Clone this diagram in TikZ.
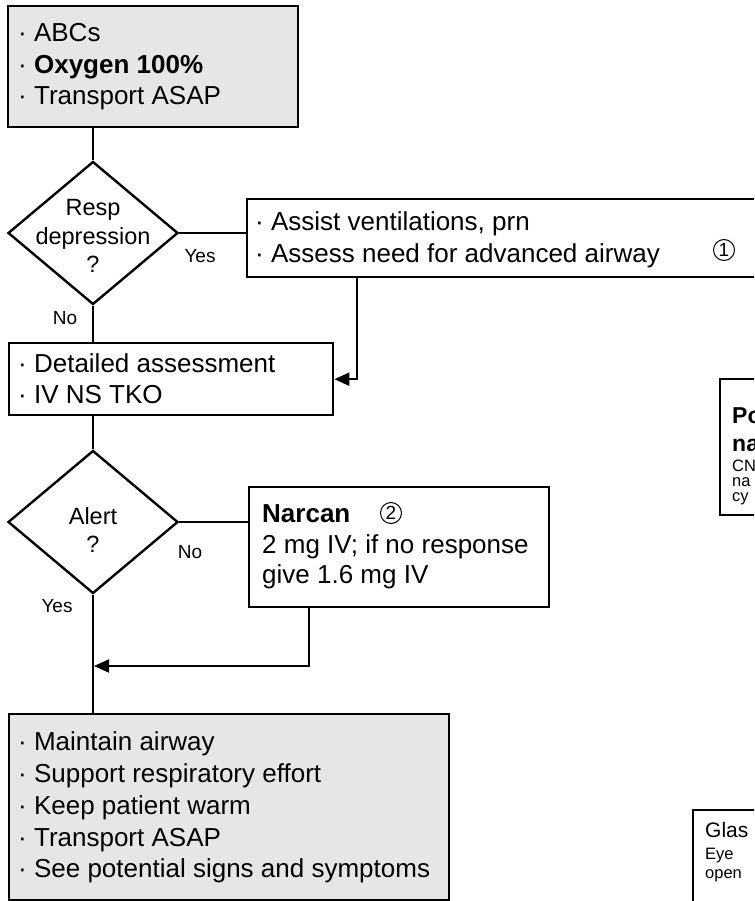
\documentclass[tikz,border=0pt]{standalone}
\usepackage{fontspec}
\setmainfont{Liberation Sans}
\usetikzlibrary{shapes.geometric,arrows.meta}
\definecolor{boxgray}{RGB}{230,230,230}
\newcommand\fsz[2]{\fontsize{#1}{#2}\selectfont}
\begin{document}
\begin{tikzpicture}[x=1pt,y=-1pt,
  box/.style={draw, line width=2.4pt, inner sep=0pt, anchor=north west},
  gbox/.style={box, fill=boxgray},
  dia/.style={draw, diamond, line width=2.4pt, inner sep=0pt, minimum width=170pt, minimum height=143pt},
  ln/.style={anchor=base west, inner sep=0pt, font=\fsz{26}{31}},
  lnb/.style={ln, font=\fsz{26}{31}\bfseries},
  dtxt/.style={align=center, inner sep=0pt, font=\fsz{23.5}{28.5}},
  lab/.style={inner sep=0pt, font=\fsz{19}{22}},
  num/.style={draw, circle, line width=1pt, inner sep=0pt, minimum size=21pt, font=\fsz{19}{21}},
  sml/.style={anchor=base west, inner sep=0pt, font=\fsz{16.5}{18}},
  conn/.style={line width=2pt},
  arr/.style={conn, -{Triangle[length=15pt,width=13pt]}}]
\useasboundingbox (0,0) rectangle (754,901);
\clip (0,0) rectangle (754,901);
\fill[white] (0,0) rectangle (754,901);

% boxes and decisions
\node[gbox, minimum width=290pt, minimum height=121pt] (top) at (7,5) {};
\node[dia] (d1) at (93,233) {};
\node[box, minimum width=540pt, minimum height=78pt] (assist) at (246,198) {};
\node[box, minimum width=324pt, minimum height=72pt] (detail) at (8,342) {};
\node[dia] (d2) at (93,522) {};
\node[box, minimum width=300pt, minimum height=120pt] (narcan) at (248,486) {};
\node[gbox, minimum width=440pt, minimum height=186pt] (bottom) at (8,713) {};
\node[box, minimum width=80pt, minimum height=136pt] (sideA) at (719,378) {};
\node[box, minimum width=80pt, minimum height=120pt] (sideB) at (692,809) {};

% texts
\node[ln]  (t1) at (18,42)  {· ABCs};
\node[lnb] (t2) at (18,74)  {\mdseries·\bfseries\ Oxygen 100\%};
\node[ln]  (t3) at (18,105) {· Transport ASAP};

\node[dtxt] (d1t) at (93,236) {Resp\\depression\\?};
\node[ln] (a1) at (255,230) {· Assist ventilations, prn};
\node[ln] (a2) at (255,262) {· Assess need for advanced airway};
\node[num] (n1) at (724,250) {1};

\node[ln] (e1) at (18,372) {· Detailed assessment};
\node[ln] (e2) at (18,403) {· IV NS TKO};

\node[dtxt] (d2t) at (93,530) {Alert\\?};
\node[lnb] (c1) at (262,522) {Narcan};
\node[num] (n2) at (391,513) {2};
\node[ln] (c2) at (262,553) {2 mg IV; if no response};
\node[ln] (c3) at (262,583) {give 1.6 mg IV};

\node[ln] (b1) at (18,750) {· Maintain airway};
\node[ln] (b2) at (18,782) {· Support respiratory effort};
\node[ln] (b3) at (18,814) {· Keep patient warm};
\node[ln] (b4) at (18,846) {· Transport ASAP};
\node[ln] (b5) at (18,877) {· See potential signs and symptoms};

\node[anchor=base west, inner sep=0pt, font=\fsz{23}{27}\bfseries] (s1) at (732,423) {Po};
\node[anchor=base west, inner sep=0pt, font=\fsz{23}{27}\bfseries] (s2) at (732,451) {na};
\node[sml] (s3) at (732,471) {CN};
\node[sml] (s4) at (732,486) {na};
\node[sml] (s5) at (732,501) {cy};

\node[anchor=base west, inner sep=0pt, font=\fsz{21}{24}] (g1) at (705,837) {Glas};
\node[sml] (g2) at (705,859) {Eye};
\node[sml] (g3) at (705,878) {open};

% labels
\node[lab] (y1) at (200,256) {Yes};
\node[lab] (no1) at (65,318) {No};
\node[lab] (no2) at (190,552) {No};
\node[lab] (y2) at (57,606) {Yes};

% connectors
\coordinate (j1) at (357,0);
\coordinate (j2) at (309,0);
\coordinate (merge) at (94,666);
\draw[conn] (d1.north |- top.south) -- (d1.north);
\draw[conn] (d1.east) -- (d1.east -| assist.west);
\draw[conn] (d1.south) -- (d1.south |- detail.north);
\draw[arr] (j1 |- assist.south) |- (detail.east);
\draw[conn] (d2.north |- detail.south) -- (d2.north);
\draw[conn] (d2.east) -- (d2.east -| narcan.west);
\draw[arr] (j2 |- narcan.south) |- (merge);
\draw[conn] (d2.south) -- (d2.south |- bottom.north);
\end{tikzpicture}
\end{document}
